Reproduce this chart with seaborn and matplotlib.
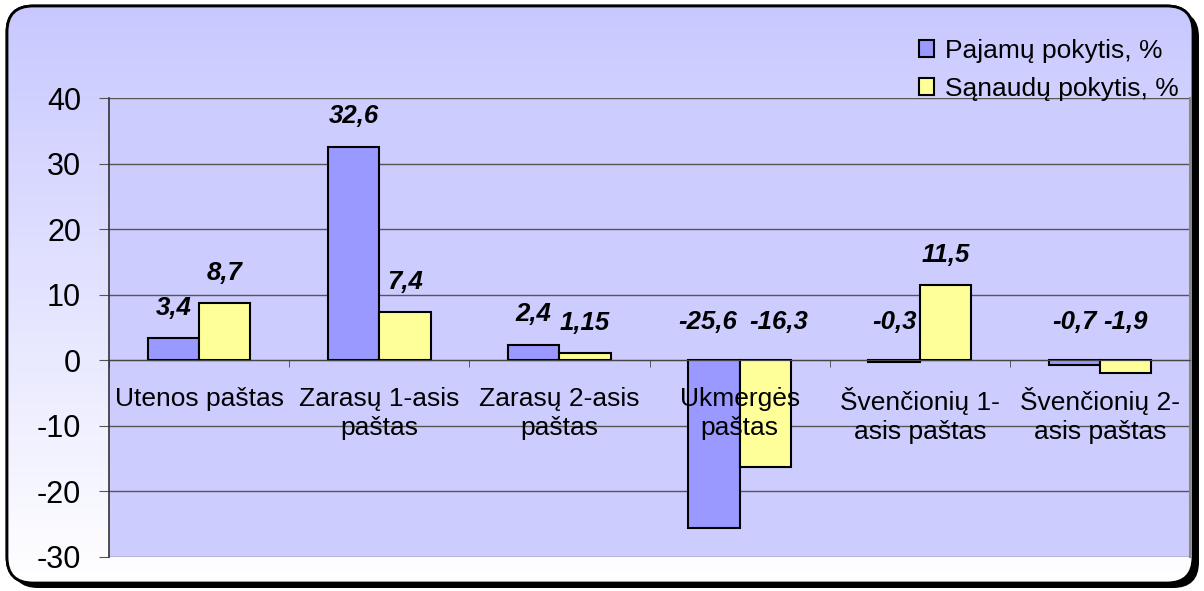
import numpy as np
import pandas as pd
import matplotlib
matplotlib.use('Agg')
import matplotlib.pyplot as plt
import seaborn as sns
from matplotlib.patches import FancyBboxPatch
from matplotlib.colors import LinearSegmentedColormap

# Data
categories = ['Utenos paštas', 'Zarasų 1-asis\npaštas', 'Zarasų 2-asis\npaštas',
              'Ukmergės\npaštas', 'Švenčionių 1-\nasis paštas', 'Švenčionių 2-\nasis paštas']
series = ['Pajamų pokytis, %', 'Sąnaudų pokytis, %']
pajamos = [3.4, 32.6, 2.4, -25.6, -0.3, -0.7]
sanaudos = [8.7, 7.4, 1.15, -16.3, 11.5, -1.9]
colors = ['#9999FF', '#FFFF99']

df = pd.DataFrame({
    'category': categories * 2,
    'series': [series[0]] * 6 + [series[1]] * 6,
    'value': pajamos + sanaudos,
})

plt.rcParams['font.family'] = ['Liberation Sans', 'DejaVu Sans']
plt.rcParams['axes.unicode_minus'] = False

fig = plt.figure(figsize=(12.04, 5.91), dpi=100)

# Background: rounded frame with shadow and vertical gradient
bg = fig.add_axes([0, 0, 1, 1])
bg.set_xlim(0, 1204)
bg.set_ylim(591, 0)
bg.axis('off')
shadow = FancyBboxPatch((12, 11), 1187, 577, boxstyle='round,pad=0,rounding_size=26',
                        fc='black', ec='none')
bg.add_patch(shadow)
frame = FancyBboxPatch((7, 6), 1186, 577, boxstyle='round,pad=0,rounding_size=26',
                       fc='white', ec='black', lw=2, zorder=2)
bg.add_patch(frame)
cmap = LinearSegmentedColormap.from_list('bg', ['#C8C8FF', '#FFFFFF'])
grad = np.linspace(0, 1, 256).reshape(-1, 1)
im = bg.imshow(grad, extent=[7, 1193, 583, 6], aspect='auto', cmap=cmap, zorder=3)
im.set_clip_path(frame)
edge = FancyBboxPatch((7, 6), 1186, 577, boxstyle='round,pad=0,rounding_size=26',
                      fc='none', ec='black', lw=2, zorder=4)
bg.add_patch(edge)

# Plot area
ax = fig.add_axes([109 / 1204, 1 - 557 / 591, (1190 - 109) / 1204, (557 - 98) / 591])
ax.set_facecolor('#CCCCFF')

sns.barplot(data=df, x='category', y='value', hue='series', palette=colors,
            saturation=1, edgecolor='black', linewidth=1.5, width=0.57, ax=ax)

ax.set_ylim(-30, 40)
ax.set_xlim(-0.5, 5.5)
ax.set_yticks(range(-30, 41, 10))
ax.grid(False)
# gridlines behind the bars, axis (tick labels) above them
for yv in ax.get_yticks():
    ax.axhline(yv, color='#555555', lw=1, zorder=0.5)
ax.set_xlabel('')
ax.set_ylabel('')

ax.spines['top'].set_visible(False)
ax.spines['right'].set_color('#888888')
ax.spines['right'].set_linewidth(1.5)
ax.spines['left'].set_color('#333333')
ax.spines['left'].set_linewidth(1.2)
ax.spines['bottom'].set_position(('data', 0))
ax.spines['bottom'].set_color('#444444')

ax.set_xticks(range(len(categories)))
ax.set_xticklabels(categories, linespacing=1.3)
ax.set_xticks(np.arange(-0.5, 6, 1), minor=True)
ax.tick_params(axis='x', which='major', length=0, pad=19, labelsize=19)
ax.tick_params(axis='x', which='minor', length=5, direction='out', color='#444444')
ax.tick_params(axis='y', length=7, color='#555555', pad=13, labelsize=22)

# Data labels
nudge = {(0, 3): -4.5, (1, 3): 9.5}
for si, cont in enumerate(ax.containers):
    for ci, bar in enumerate(cont):
        v = bar.get_height() if bar.get_y() >= 0 else bar.get_y()
        x = bar.get_x() + bar.get_width() / 2
        txt = ('%g' % v).replace('.', ',')
        off = 13 if v > 0 else 19
        ax.annotate(txt, (x, max(v, 0)), xytext=(nudge.get((si, ci), 0), off),
                    textcoords='offset points', ha='center', va='bottom',
                    fontsize=18.5, fontweight='bold', fontstyle='italic')

handles, labels = ax.get_legend_handles_labels()
ax.get_legend().remove()
fig.legend(handles, labels, loc='upper left', bbox_to_anchor=(908 / 1204, 1 - 28 / 591),
           frameon=False, fontsize=19, handlelength=0.6, handleheight=0.6,
           handletextpad=0.4, labelspacing=0.55, borderaxespad=0)

fig.savefig('out.png', dpi=100)
